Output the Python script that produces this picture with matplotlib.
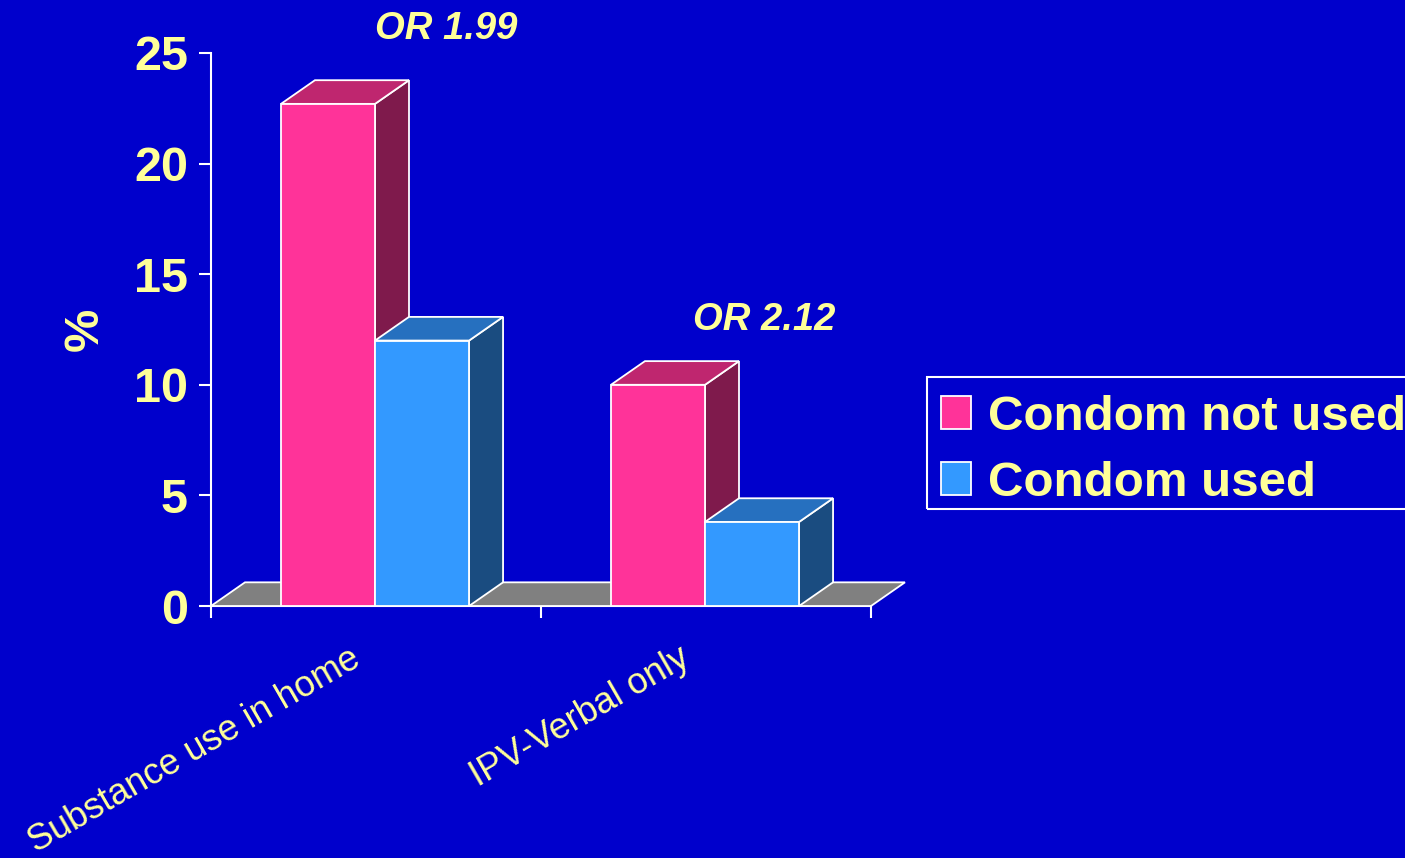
import numpy as np
import matplotlib.pyplot as plt
from matplotlib.patches import Polygon, Rectangle

categories = ['Substance use in home', 'IPV-Verbal only']
not_used = [22.7, 10.0]
used = [12.0, 3.8]
odds = ['OR 1.99', 'OR 2.12']
series = ['Condom not used', 'Condom used']

bg = '#0000CC'
yellow = '#FFFF99'
front = ['#FF3399', '#3399FF']
top = ['#BF266F', '#2670BF']
side = ['#7F1A4C', '#1A4C80']

plt.rcParams['font.family'] = ['Liberation Sans', 'DejaVu Sans']

fig = plt.figure(figsize=(14.05, 8.58), dpi=100, facecolor=bg)
ax = fig.add_axes([211/1405, 1-606/858, 660/1405, 553/858])
ax.set_facecolor('none')
ax.set_xlim(0, 2)
ax.set_ylim(0, 25)

# depth of the fake 3d
dx = 0.103
dy = 1.07
w = 0.285
off = 0.212

# floor
floor = Polygon([(0, 0), (2, 0), (2+dx, dy), (dx, dy)], closed=True,
                facecolor='#808080', edgecolor='white', lw=1.3, clip_on=False, zorder=1)
ax.add_patch(floor)

x = np.arange(len(categories))
vals = [not_used, used]
z = 2
for i in range(len(categories)):
    for s in range(2):
        x0 = x[i] + off + s*w
        h = vals[s][i]
        sd = Polygon([(x0+w, 0), (x0+w+dx, dy), (x0+w+dx, h+dy), (x0+w, h)], closed=True,
                     facecolor=side[s], edgecolor='white', lw=1.3, clip_on=False, zorder=z)
        tp = Polygon([(x0, h), (x0+dx, h+dy), (x0+w+dx, h+dy), (x0+w, h)], closed=True,
                     facecolor=top[s], edgecolor='white', lw=1.3, clip_on=False, zorder=z)
        ax.add_patch(sd)
        ax.add_patch(tp)
        ax.bar(x0, h, width=w, align='edge', color=front[s], edgecolor='white', lw=1.3,
               zorder=z+0.5, label=series[s] if i == 0 else None, clip_on=False)
        z += 1

# odds ratio labels above each group
or_dx = [0.712, 0.676]
or_dy = [3.4, 2.95]
for i in range(len(categories)):
    ax.text(x[i] + or_dx[i], not_used[i] + or_dy[i], odds[i], color=yellow, fontsize=27.5,
            fontweight='bold', fontstyle='italic', ha='center', va='center')

for sp in ['top', 'right']:
    ax.spines[sp].set_visible(False)
for sp in ['left', 'bottom']:
    ax.spines[sp].set_color('white')
    ax.spines[sp].set_linewidth(1.5)
    ax.spines[sp].set_zorder(0.5)

ax.set_yticks([0, 5, 10, 15, 20, 25])
ax.set_xticks([0, 1, 2])
ax.set_xticklabels([])
ax.set_xticks(x + 0.47, categories, minor=True)
ax.tick_params(axis='both', which='major', colors='white', length=8.6, width=1.5)
ax.tick_params(axis='y', labelcolor=yellow, labelsize=35, pad=8)
for t in ax.get_yticklabels():
    t.set_fontweight('bold')
ax.tick_params(axis='x', which='minor', length=0, labelcolor=yellow, labelsize=26,
               pad=25, labelrotation=30)
for t in ax.get_xticklabels(minor=True):
    t.set_ha('right')
    t.set_va('top')

ax.set_ylabel('%', color=yellow, fontsize=35, fontweight='bold')
ax.yaxis.set_label_coords(-0.157, 0.5)

leg = ax.legend(loc='upper left', bbox_to_anchor=(927/1405, 1-381/858),
                bbox_transform=fig.transFigure, fontsize=35.5, frameon=False,
                handlelength=0.62, handleheight=0.65,
                handletextpad=0.33, labelspacing=0.42, borderpad=0.28, borderaxespad=0)
for t in leg.get_texts():
    t.set_color(yellow)
    t.set_fontweight('bold')
fig.patches.append(Rectangle((927/1405, 1-509/858), 0.4, 132/858, transform=fig.transFigure,
                             facecolor='none', edgecolor='white', lw=1.5))

fig.savefig('out.png', dpi=100, facecolor=bg)
